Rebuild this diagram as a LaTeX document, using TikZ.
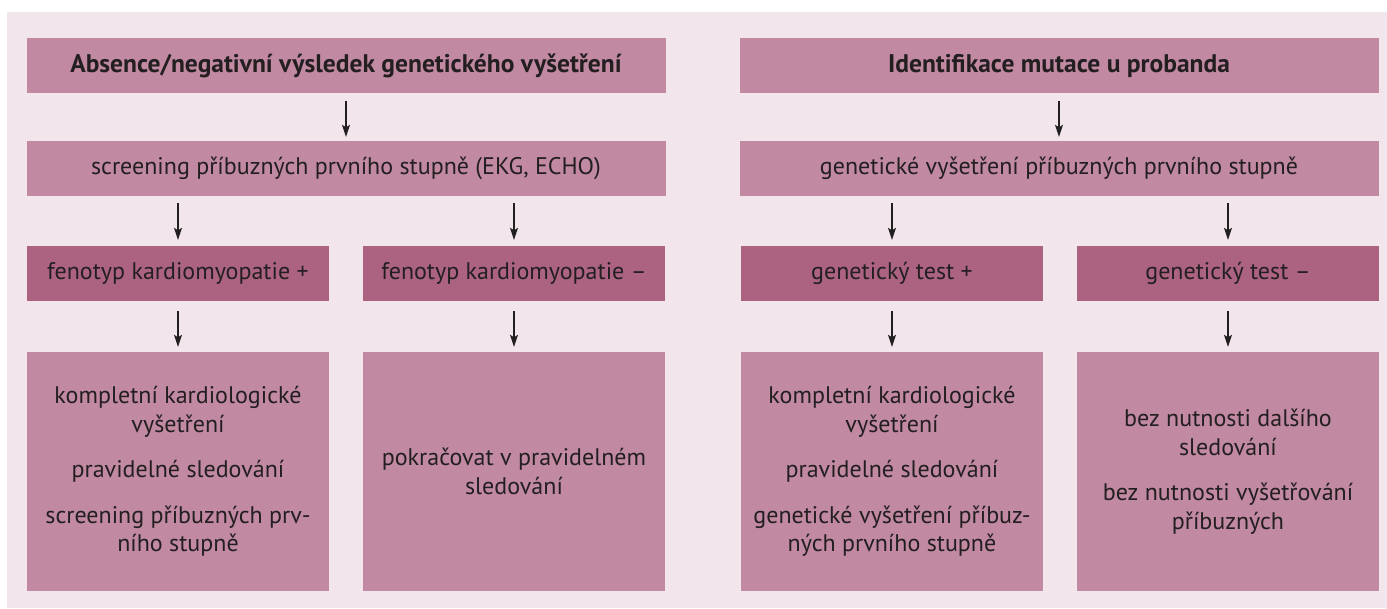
\documentclass[tikz,border=0pt]{standalone}
\usepackage{fontspec}
\setmainfont{PT Sans}
\usepackage{xcolor}
\usetikzlibrary{positioning, arrows.meta}
\definecolor{panel}{RGB}{242,230,236}
\definecolor{boxlight}{RGB}{193,137,162}
\definecolor{boxdark}{RGB}{172,99,130}
\definecolor{ink}{RGB}{35,31,32}
\newcommand{\boxfont}{\fontsize{24}{28.5}\selectfont}
\newcommand{\headfont}{\bfseries\fontsize{25.5}{28.5}\selectfont}

\begin{document}
\begin{tikzpicture}[x=1pt, y=-1pt,
        box/.style={fill=boxlight, text=ink, align=center, inner sep=0pt, font=\boxfont},
        headbox/.style={box, minimum width=639pt, minimum height=55pt, font=\headfont},
        widebox/.style={box, minimum width=639pt, minimum height=55pt},
        resbox/.style={box, fill=boxdark, minimum width=302pt, minimum height=55pt},
        carebox/.style={box, minimum width=302pt, minimum height=239pt},
        arrow/.style={-{Stealth[length=12pt, width=8pt, inset=2.5pt]}, line width=1.1pt, draw=ink}]
        \useasboundingbox (0, 0) rectangle (1387, 608);
        \fill [panel] (7, 12) rectangle (1387, 608);

        \node [headbox] (absence) at (346, 65.5) {Absence/negativní výsledek genetického vyšetření};
        \node [headbox] (mutace) at (1059, 65.5) {Identifikace mutace u probanda};
        \node [widebox] (screening) at (346, 168.5) {screening příbuzných prvního stupně (EKG, ECHO)};
        \node [widebox] (genvys) at (1059, 168.5) {genetické vyšetření příbuzných prvního stupně};

        \node [resbox] (fenplus) at (178, 273.5) {fenotyp kardiomyopatie +};
        \node [resbox] (fenminus) at (514, 273.5) {fenotyp kardiomyopatie –};
        \node [resbox] (testplus) at (892, 273.5) {genetický test +};
        \node [resbox] (testminus) at (1228, 273.5) {genetický test –};

        \node [carebox] (careA) at (178, 471.5) {kompletní kardiologické\\vyšetření\\[17pt]pravidelné sledování\\[17pt]screening příbuzných prv-\\ního stupně};
        \node [carebox] (careB) at (514, 471.5) {pokračovat v pravidelném\\sledování};
        \node [carebox] (careC) at (892, 471.5) {kompletní kardiologické\\vyšetření\\[17pt]pravidelné sledování\\[17pt]genetické vyšetření příbuz-\\ných prvního stupně};
        \node [carebox] (careD) at (1228, 471.5) {bez nutnosti dalšího\\sledování\\[17pt]bez nutnosti vyšetřování\\příbuzných};

        \draw [arrow, shorten <=8pt, shorten >=4pt] (absence) -- (screening);
        \draw [arrow, shorten <=8pt, shorten >=4pt] (mutace) -- (genvys);

        \draw [arrow, shorten <=7pt, shorten >=6pt] (fenplus |- screening.south) -- (fenplus);
        \draw [arrow, shorten <=7pt, shorten >=6pt] (fenminus |- screening.south) -- (fenminus);
        \draw [arrow, shorten <=7pt, shorten >=6pt] (testplus |- genvys.south) -- (testplus);
        \draw [arrow, shorten <=7pt, shorten >=6pt] (testminus |- genvys.south) -- (testminus);

        \draw [arrow, shorten <=10pt, shorten >=5pt] (fenplus) -- (careA);
        \draw [arrow, shorten <=10pt, shorten >=5pt] (fenminus) -- (careB);
        \draw [arrow, shorten <=10pt, shorten >=5pt] (testplus) -- (careC);
        \draw [arrow, shorten <=10pt, shorten >=5pt] (testminus) -- (careD);
    \end{tikzpicture}
\end{document}
